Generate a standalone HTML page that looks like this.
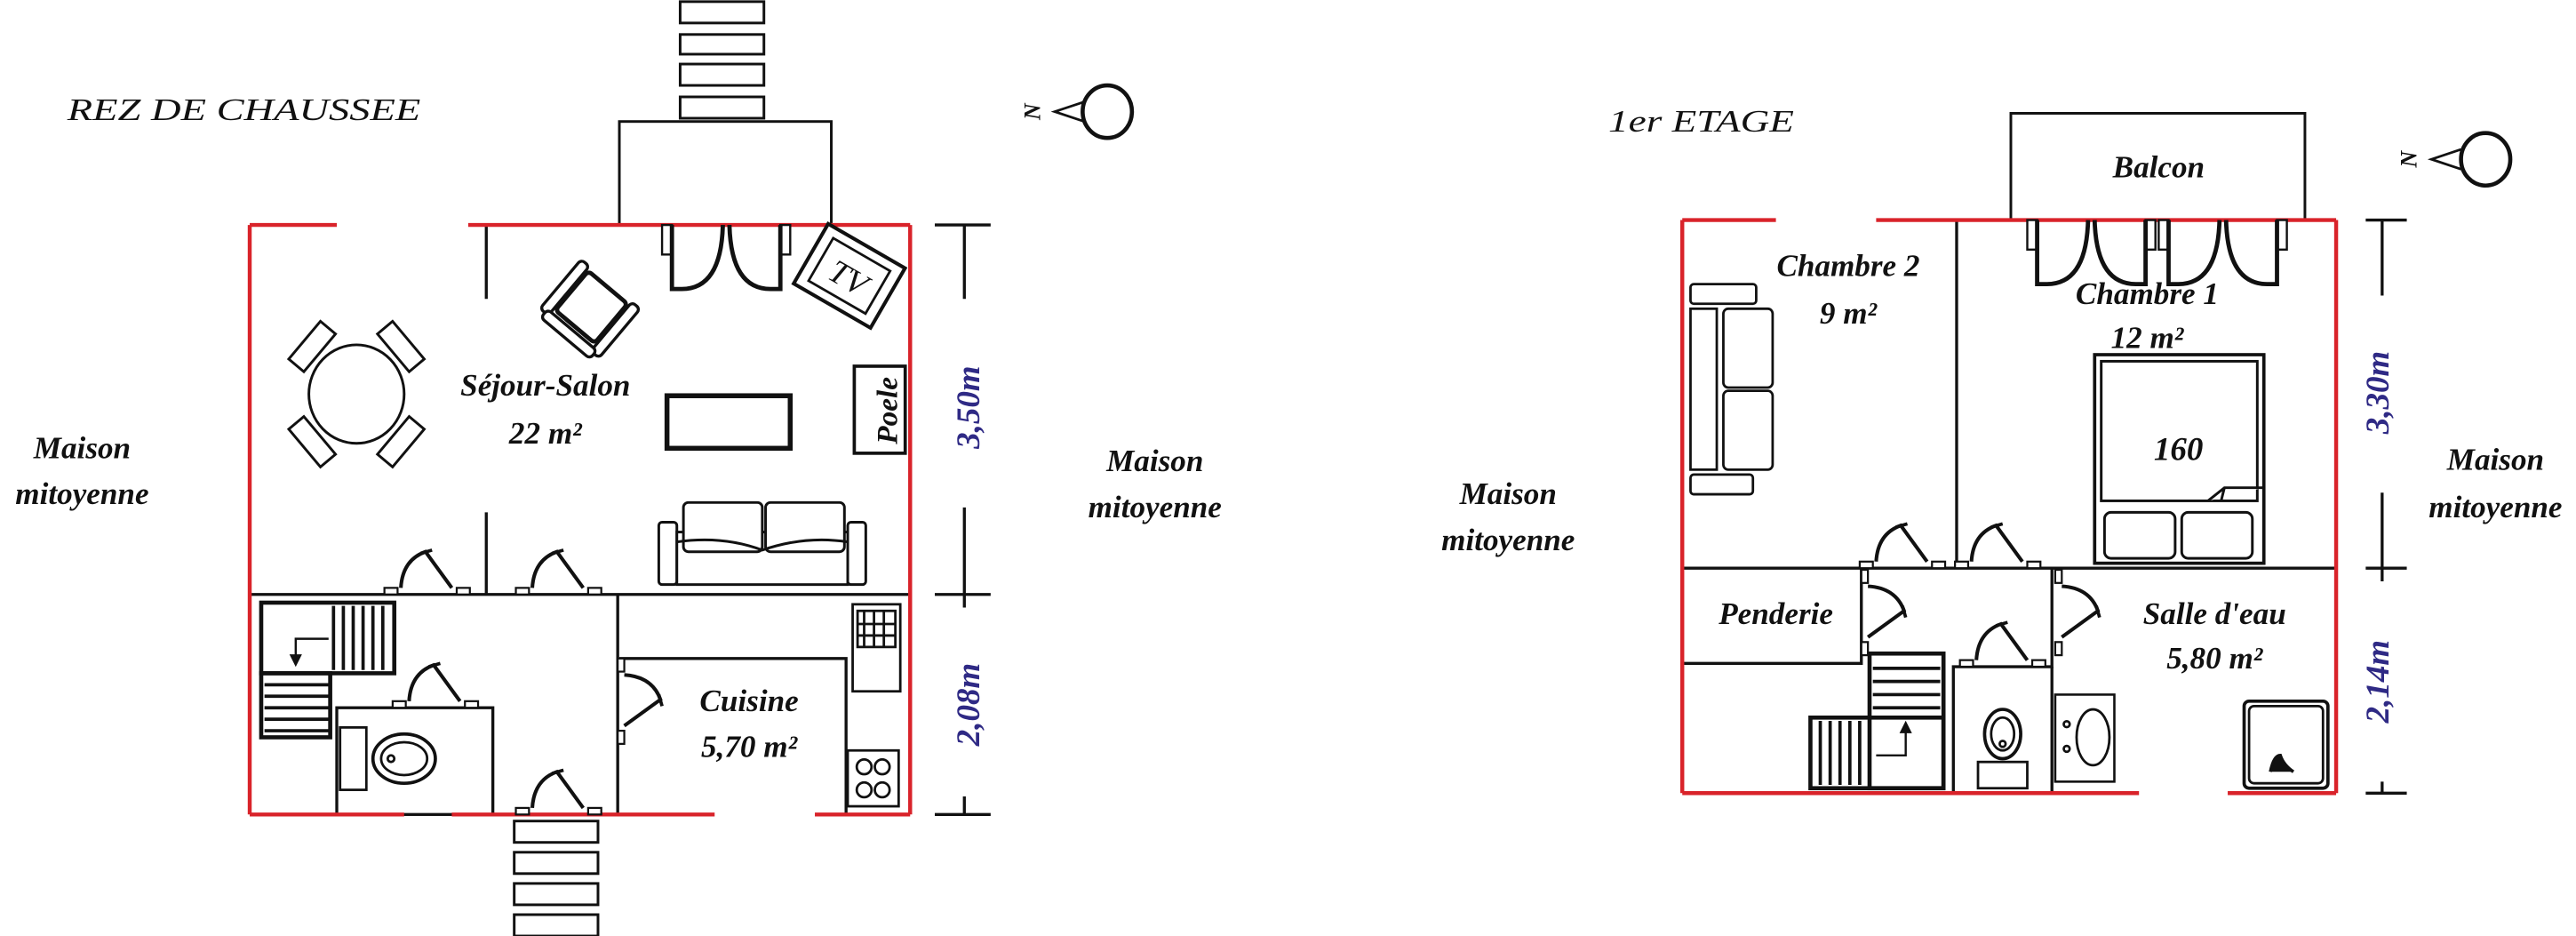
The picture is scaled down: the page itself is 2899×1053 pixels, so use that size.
<!DOCTYPE html>
<html><head><meta charset="utf-8"><style>
html,body{margin:0;padding:0;background:#fff;}
svg{display:block}
text{font-family:"Liberation Serif",serif;font-style:italic;fill:#111}
</style></head><body>
<svg width="2899" height="1053" viewBox="0 0 1568 570" preserveAspectRatio="none" xmlns="http://www.w3.org/2000/svg">
<defs>
<g id="door"><rect x="-26" y="-4" width="8" height="4" fill="#fff" stroke="#111" stroke-width="1.2"/><rect x="18" y="-4" width="8" height="4" fill="#fff" stroke="#111" stroke-width="1.2"/><path d="M-16,-4 Q-15,-21 -1,-26 L15,-4" fill="none" stroke="#111" stroke-width="2.2"/><path d="M-4,-25 L3,-27" stroke="#111" stroke-width="2"/></g>
<g id="fpair" fill="none" stroke="#111"><rect x="0" y="0" width="6" height="18" fill="#fff" stroke-width="1.3"/><rect x="72" y="0" width="6" height="18" fill="#fff" stroke-width="1.3"/>
<path d="M6,0 V39 H12 Q36,39 37,0" stroke-width="2.6"/><path d="M72,0 V39 H66 Q42,39 41,0" stroke-width="2.6"/></g>
</defs>
<rect width="1568" height="570" fill="#fff"/>

<!-- ========== LEFT PLAN ========== -->
<text x="41" y="73" font-size="19" textLength="215" lengthAdjust="spacingAndGlyphs">REZ DE CHAUSSEE</text>
<g fill="#fff" stroke="#111" stroke-width="1.6">
<rect x="414" y="1" width="51" height="13"/><rect x="414" y="21" width="51" height="12"/><rect x="414" y="39" width="51" height="13"/><rect x="414" y="59" width="51" height="13"/>
<rect x="377" y="74" width="129" height="63"/>
<rect x="313" y="500" width="51" height="13"/><rect x="313" y="519" width="51" height="13"/><rect x="313" y="538" width="51" height="13"/><rect x="313" y="557" width="51" height="13"/>
</g>
<g stroke="#111" stroke-width="1.8" fill="none">
<line x1="152" y1="362" x2="554" y2="362"/>
<line x1="296" y1="137" x2="296" y2="182"/><line x1="296" y1="312" x2="296" y2="362"/>
<line x1="376" y1="362" x2="376" y2="496"/>
<polyline points="377,401 515,401 515,496"/>
<rect x="205" y="431" width="95" height="65"/>
</g>
<g stroke="#d9232a" stroke-width="2.4" fill="none">
<line x1="152" y1="137" x2="205" y2="137"/><line x1="285" y1="137" x2="554" y2="137"/>
<line x1="152" y1="137" x2="152" y2="496"/><line x1="554" y1="137" x2="554" y2="496"/>
<line x1="152" y1="496" x2="246" y2="496"/><line x1="275" y1="496" x2="435" y2="496"/><line x1="496" y1="496" x2="554" y2="496"/>
</g>
<use href="#fpair" x="403" y="137"/>
<g transform="translate(517,168) rotate(30)" stroke="#111" fill="#fff">
<rect x="-27" y="-21" width="54" height="42" stroke-width="2.2"/><rect x="-20" y="-15" width="40" height="30" stroke-width="1.5"/>
<text x="0" y="8" font-size="20" text-anchor="middle" font-style="normal" stroke="none">TV</text></g>
<g transform="translate(360,187) rotate(40) scale(1.3)" stroke="#111" stroke-width="1.4" fill="#fff">
<rect x="-12" y="-12" width="24" height="24" rx="2" stroke-width="2"/><rect x="-18" y="-14" width="5" height="30" rx="2"/><rect x="13" y="-14" width="5" height="30" rx="2"/><rect x="-15" y="14" width="30" height="5" rx="2"/></g>
<g stroke="#111" stroke-width="1.6" fill="#fff">
<ellipse cx="217" cy="240" rx="29" ry="30"/>
<rect x="-6" y="-15" width="12" height="30" transform="translate(190,211) rotate(40)"/>
<rect x="-6" y="-15" width="12" height="30" transform="translate(244,211) rotate(-40)"/>
<rect x="-6" y="-15" width="12" height="30" transform="translate(190,269) rotate(-40)"/>
<rect x="-6" y="-15" width="12" height="30" transform="translate(244,269) rotate(40)"/>
<rect x="406" y="241" width="75" height="32" stroke-width="3"/>
<rect x="520" y="223" width="31" height="53" stroke-width="2"/>
<rect x="401" y="318" width="11" height="38" rx="2"/><rect x="516" y="318" width="11" height="38" rx="2"/>
<rect x="412" y="324" width="104" height="32"/>
<rect x="416" y="306" width="48" height="30" rx="3"/><rect x="466" y="306" width="48" height="30" rx="3"/>
</g>
<path d="M412,330 Q440,326 464,335 Q490,326 516,330" fill="none" stroke="#111" stroke-width="1.6"/>
<text x="546" y="250" font-size="18" text-anchor="middle" transform="rotate(-90 546 250)" font-weight="bold" font-style="normal">Poele</text>
<g stroke="#111" stroke-width="1.5" fill="#fff">
<rect x="519" y="368" width="29" height="53"/><rect x="522" y="372" width="23" height="22"/>
<path d="M526,372 V394 M532,372 V394 M538,372 V394 M522,380 H545 M522,387 H545"/>
<rect x="516" y="457" width="31" height="34"/><circle cx="526" cy="467" r="4.5"/><circle cx="537" cy="467" r="4.5"/><circle cx="526" cy="481" r="4.5"/><circle cx="537" cy="481" r="4.5"/>
</g>
<g stroke="#111" fill="none">
<rect x="159" y="367" width="81" height="43" stroke-width="2.5"/>
<rect x="159" y="410" width="42" height="39" stroke-width="2.5"/>
<path d="M203,369 V408 M209,369 V408 M215,369 V408 M221,369 V408 M227,369 V408 M233,369 V408" stroke-width="2"/>
<path d="M161,417 H200 M161,424 H200 M161,431 H200 M161,438 H200 M161,445 H200" stroke-width="2"/>
<path d="M200,389 H180 V400" stroke-width="1.3"/><path d="M177,399 L180,405 L183,399Z" fill="#111"/>
</g>
<g stroke="#111" stroke-width="1.5" fill="#fff">
<rect x="207" y="443" width="16" height="38"/><ellipse cx="246" cy="462" rx="19" ry="15" stroke-width="2"/><ellipse cx="246" cy="462" rx="14" ry="10"/><circle cx="238" cy="462" r="2"/></g>
<use href="#door" x="260" y="362"/><use href="#door" x="340" y="362"/><use href="#door" x="265" y="431"/><use href="#door" x="340" y="496"/>
<g transform="translate(376,427) rotate(90)"><use href="#door"/></g>
<text x="332" y="241" font-size="19" text-anchor="middle" font-weight="bold">Séjour-Salon</text>
<text x="332" y="270" font-size="19" text-anchor="middle" font-weight="bold">22 m²</text>
<text x="456" y="433" font-size="19" text-anchor="middle" font-weight="bold">Cuisine</text>
<text x="456" y="461" font-size="19" text-anchor="middle" font-weight="bold">5,70 m²</text>
<text x="50" y="279" font-size="19" text-anchor="middle" font-weight="bold">Maison</text>
<text x="50" y="307" font-size="19" text-anchor="middle" font-weight="bold">mitoyenne</text>
<text x="703" y="287" font-size="19" text-anchor="middle" font-weight="bold">Maison</text>
<text x="703" y="315" font-size="19" text-anchor="middle" font-weight="bold">mitoyenne</text>
<g stroke="#111" stroke-width="1.8">
<line x1="587" y1="137" x2="587" y2="182"/><line x1="587" y1="309" x2="587" y2="370"/><line x1="587" y1="485" x2="587" y2="496"/>
<line x1="569" y1="137" x2="603" y2="137"/><line x1="569" y1="362" x2="603" y2="362"/><line x1="569" y1="496" x2="603" y2="496"/>
</g>
<text x="596" y="248" font-size="20" style="fill:#2f2a85" text-anchor="middle" font-weight="bold" transform="rotate(-90 596 248)">3,50m</text>
<text x="596" y="429" font-size="20" style="fill:#2f2a85" text-anchor="middle" font-weight="bold" transform="rotate(-90 596 429)">2,08m</text>
<text x="628" y="68" font-size="14" font-weight="bold" font-style="normal" text-anchor="middle" transform="rotate(-90 628 68)" dy="5">N</text>
<polyline points="660,62 642,68 660,74" fill="none" stroke="#111" stroke-width="1.5"/>
<ellipse cx="674" cy="68" rx="15" ry="16" fill="none" stroke="#111" stroke-width="2.5"/>

<!-- ========== RIGHT PLAN ========== -->
<text x="979" y="80" font-size="19" textLength="113" lengthAdjust="spacingAndGlyphs">1er ETAGE</text>
<rect x="1224" y="69" width="179" height="65" fill="#fff" stroke="#111" stroke-width="1.6"/>
<text x="1314" y="108" font-size="19" text-anchor="middle" font-weight="bold">Balcon</text>
<g stroke="#111" stroke-width="1.8" fill="none">
<line x1="1191" y1="134" x2="1191" y2="346"/>
<line x1="1024" y1="346" x2="1422" y2="346"/>
<polyline points="1024,404 1133,404 1133,346"/>
<polyline points="1189,483 1189,406 1249,406 1249,346"/><line x1="1249" y1="406" x2="1249" y2="483"/>
<rect x="1251" y="423" width="36" height="53" stroke-width="1.4"/>
</g>
<g stroke="#d9232a" stroke-width="2.4" fill="none">
<line x1="1024" y1="134" x2="1081" y2="134"/><line x1="1142" y1="134" x2="1422" y2="134"/>
<line x1="1024" y1="134" x2="1024" y2="483"/><line x1="1422" y1="134" x2="1422" y2="483"/>
<line x1="1024" y1="483" x2="1302" y2="483"/><line x1="1356" y1="483" x2="1422" y2="483"/>
</g>
<use href="#fpair" x="1234" y="134"/>
<use href="#fpair" x="1314" y="134"/>
<g stroke="#111" stroke-width="1.5" fill="#fff">
<rect x="1029" y="173" width="40" height="12" rx="2"/><rect x="1029" y="289" width="38" height="12" rx="2"/>
<rect x="1029" y="188" width="16" height="98"/>
<rect x="1049" y="188" width="30" height="48" rx="3"/><rect x="1049" y="238" width="30" height="48" rx="3"/>
</g>
<g stroke="#111" stroke-width="1.6" fill="#fff">
<rect x="1275" y="216" width="103" height="127" stroke-width="2"/><rect x="1279" y="220" width="95" height="85"/>
<rect x="1281" y="312" width="43" height="28" rx="4"/><rect x="1328" y="312" width="43" height="28" rx="4"/>
<path d="M1344,305 L1354,297 L1378,297 M1354,297 L1352,305"/>
</g>
<text x="1326" y="280" font-size="20" text-anchor="middle" font-weight="bold">160</text>
<g stroke="#111" fill="none">
<rect x="1138" y="398" width="45" height="82" stroke-width="2.5"/>
<rect x="1102" y="437" width="81" height="43" stroke-width="2.5"/>
<path d="M1140,407 H1181 M1140,415 H1181 M1140,423 H1181 M1140,431 H1181" stroke-width="2"/>
<path d="M1108,439 V478 M1114,439 V478 M1120,439 V478 M1126,439 V478 M1132,439 V478 M1138,439 V478" stroke-width="2"/>
<path d="M1142,460 H1160 V445" stroke-width="1.3"/><path d="M1157,446 L1160,440 L1163,446Z" fill="#111"/>
</g>
<g stroke="#111" stroke-width="1.5" fill="#fff">
<rect x="1204" y="464" width="30" height="16"/><ellipse cx="1219" cy="447" rx="11" ry="15" stroke-width="2"/><ellipse cx="1219" cy="447" rx="7" ry="10"/><circle cx="1219" cy="453" r="1.8"/>
<ellipse cx="1274" cy="449" rx="10" ry="17"/><circle cx="1258" cy="441" r="1.8"/><circle cx="1258" cy="456" r="1.8"/>
<rect x="1366" y="427" width="51" height="53" rx="3" stroke-width="2"/><rect x="1369" y="430" width="45" height="47" rx="3"/>
</g>
<path d="M1382,470 Q1384,460 1388,460 Q1390,466 1396,470" fill="#111" stroke="#111" stroke-width="2"/>
<use href="#door" x="1158" y="346"/><use href="#door" x="1216" y="346"/><use href="#door" x="1219" y="406"/>
<g transform="translate(1133,373) rotate(90)"><use href="#door"/></g>
<g transform="translate(1251,373) rotate(90)"><use href="#door"/></g>
<text x="1125" y="168" font-size="19" text-anchor="middle" font-weight="bold">Chambre 2</text>
<text x="1125" y="197" font-size="19" text-anchor="middle" font-weight="bold">9 m²</text>
<text x="1307" y="185" font-size="19" text-anchor="middle" font-weight="bold">Chambre 1</text>
<text x="1307" y="212" font-size="19" text-anchor="middle" font-weight="bold">12 m²</text>
<text x="1081" y="380" font-size="19" text-anchor="middle" font-weight="bold">Penderie</text>
<text x="1348" y="380" font-size="19" text-anchor="middle" font-weight="bold">Salle d'eau</text>
<text x="1348" y="407" font-size="19" text-anchor="middle" font-weight="bold">5,80 m²</text>
<text x="918" y="307" font-size="19" text-anchor="middle" font-weight="bold">Maison</text>
<text x="918" y="335" font-size="19" text-anchor="middle" font-weight="bold">mitoyenne</text>
<text x="1519" y="286" font-size="19" text-anchor="middle" font-weight="bold">Maison</text>
<text x="1519" y="315" font-size="19" text-anchor="middle" font-weight="bold">mitoyenne</text>
<g stroke="#111" stroke-width="1.8">
<line x1="1450" y1="134" x2="1450" y2="180"/><line x1="1450" y1="300" x2="1450" y2="354"/><line x1="1450" y1="476" x2="1450" y2="483"/>
<line x1="1440" y1="134" x2="1465" y2="134"/><line x1="1440" y1="346" x2="1465" y2="346"/><line x1="1440" y1="483" x2="1465" y2="483"/>
</g>
<text x="1454" y="239" font-size="20" style="fill:#2f2a85" text-anchor="middle" font-weight="bold" transform="rotate(-90 1454 239)">3,30m</text>
<text x="1454" y="415" font-size="20" style="fill:#2f2a85" text-anchor="middle" font-weight="bold" transform="rotate(-90 1454 415)">2,14m</text>
<text x="1466" y="97" font-size="14" font-weight="bold" font-style="normal" text-anchor="middle" transform="rotate(-90 1466 97)" dy="5">N</text>
<polyline points="1498,91 1480,97 1498,103" fill="none" stroke="#111" stroke-width="1.5"/>
<ellipse cx="1513" cy="97" rx="15" ry="16" fill="none" stroke="#111" stroke-width="2.5"/>
</svg>
</body></html>
